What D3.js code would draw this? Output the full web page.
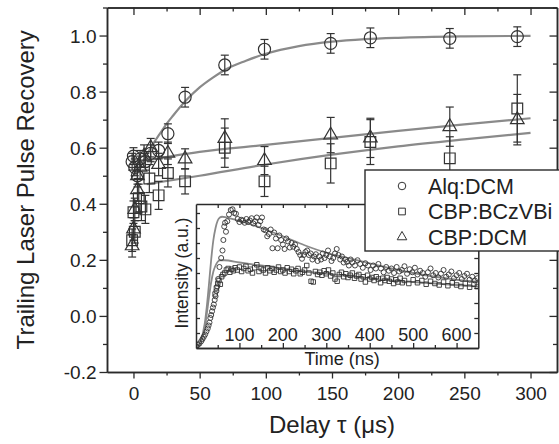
<!DOCTYPE html>
<html>
<head>
<meta charset="utf-8">
<script src="https://cdn.jsdelivr.net/npm/d3@7"></script>
<style>
  body { margin: 0; background: #fff; }
  text { font-family: Arial, "Liberation Sans", sans-serif; fill: #222; }
</style>
</head>
<body>
<svg id="chart" width="559" height="444"></svg>
<script>
// main panel: delay (us), recovery, error
const alqDelay = [-1, 0, 1, 3, 5, 9, 13, 19, 26, 39, 69, 99, 149, 179, 239, 290];
const alqValue = [0.55, 0.57, 0.53, 0.50, 0.56, 0.55, 0.58, 0.59, 0.65, 0.78, 0.895, 0.951, 0.972, 0.992, 0.99, 0.996];
const alqError = [0.03, 0.03, 0.03, 0.03, 0.03, 0.03, 0.03, 0.03, 0.035, 0.035, 0.035, 0.035, 0.035, 0.035, 0.035, 0.035];

const bczDelay = [-1, 0, 1, 4, 6, 9, 12, 19, 26, 39, 69, 99, 149, 179, 239, 290];
const bczValue = [0.27, 0.37, 0.30, 0.42, 0.39, 0.38, 0.49, 0.43, 0.51, 0.48, 0.60, 0.48, 0.544, 0.62, 0.562, 0.74];
const bczError = [0.04, 0.04, 0.04, 0.05, 0.05, 0.05, 0.05, 0.05, 0.05, 0.045, 0.07, 0.054, 0.07, 0.08, 0.077, 0.12];

const dcmDelay = [-1, 0, 1, 3, 3, 5, 8, 13, 19, 26, 39, 69, 99, 149, 179, 239, 290];
const dcmValue = [0.25, 0.31, 0.38, 0.45, 0.50, 0.53, 0.57, 0.60, 0.54, 0.58, 0.56, 0.633, 0.554, 0.645, 0.635, 0.675, 0.70];
const dcmError = [0.04, 0.04, 0.04, 0.04, 0.04, 0.04, 0.04, 0.033, 0.04, 0.04, 0.036, 0.07, 0.05, 0.063, 0.07, 0.07, 0.09];

// fitted curves
const alqFitX = [2, 5, 10, 15, 20, 25, 30, 40, 50, 60, 70, 85, 100, 125, 150, 175, 200, 250, 300];
const alqFitY = [0.50, 0.53, 0.575, 0.615, 0.65, 0.685, 0.715, 0.77, 0.815, 0.85, 0.88, 0.91, 0.935, 0.962, 0.978, 0.987, 0.992, 0.997, 0.999];
const bczFitX = [10, 50, 100, 150, 200, 250, 300];
const bczFitY = [0.47, 0.50, 0.54, 0.575, 0.605, 0.63, 0.653];
const dcmFitX = [10, 50, 100, 150, 200, 250, 300];
const dcmFitY = [0.555, 0.585, 0.61, 0.635, 0.66, 0.683, 0.705];

const xTicks = [0, 50, 100, 150, 200, 250, 300];
const yTicks = [-0.2, 0.0, 0.2, 0.4, 0.6, 0.8, 1.0];

// inset: time (ns), intensity (a.u.)
const insetAlq = [[1,0.1],[4,0.2],[8,0.3],[12,0.45],[15,0.6],[18,0.75],[21,0.9],[24,1.1],[27,1.3],[29,1.5],[31,1.7],[33,2.0],[35,2.2],[37,2.45],[39,2.7],[41,2.9],[43,3.2],[45,3.45],[47,3.8],[49,4.1],[51,4.6],[54,5.4],[58,6.0],[61,6.5],[63,7.2],[65,8.1],[67,8.35],[69,7.75],[72,8.45],[76,8.9],[80,9.2],[84,9.25],[88,9.0],[92,8.95],[96,8.6],[100,8.4],[104,8.55],[108,8.5],[112,8.35],[116,8.6],[120,8.4],[124,8.5],[128,8.65],[132,8.3],[136,8.45],[140,8.7],[144,8.2],[148,8.45],[152,8.7],[156,7.9],[160,7.85],[164,7.45],[168,7.6],[172,7.9],[176,6.65],[180,7.7],[184,7.3],[188,6.65],[192,7.5],[196,7.2],[200,6.9],[204,6.6],[208,7.3],[212,7.1],[216,6.7],[220,7.0],[224,6.75],[228,6.9],[232,6.6],[236,6.4],[240,6.2],[244,5.95],[248,6.2],[252,6.4],[256,6.5],[260,6.2],[264,6.3],[268,5.9],[272,6.1],[276,6.25],[280,5.8],[284,6.1],[288,5.9],[292,6.3],[296,6.0],[300,6.2],[304,6.5],[308,6.1],[312,5.8],[316,6.0],[320,6.3],[324,6.6],[328,6.2],[332,5.9],[336,6.1],[340,5.7],[344,5.9],[348,5.75],[352,5.5],[356,5.9],[360,5.7],[366,5.5],[372,5.85],[378,5.6],[384,5.35],[390,5.65],[396,5.5],[402,5.2],[408,5.5],[414,5.3],[420,5.6],[426,5.3],[432,5.05],[438,5.4],[444,5.15],[450,5.3],[456,5.0],[462,5.4],[468,5.1],[474,5.2],[480,5.45],[486,4.95],[492,5.25],[498,5.05],[504,5.35],[510,4.9],[516,5.15],[522,5.0],[528,4.75],[534,5.05],[540,5.3],[546,4.85],[552,5.0],[558,4.7],[564,4.95],[570,5.2],[576,4.75],[582,4.9],[588,5.1],[594,4.65],[600,4.85],[606,5.0],[612,4.6],[618,4.8],[624,4.95],[630,4.55],[636,4.75],[642,4.5],[648,4.65]];
const insetBcz = [[44,3.6],[47,4.0],[50,4.3],[53,4.5],[56,4.25],[59,4.75],[62,4.9],[66,5.0],[70,5.2],[74,5.3],[78,5.05],[82,5.25],[86,5.15],[90,5.35],[95,5.2],[100,5.4],[105,5.1],[110,5.3],[115,5.45],[120,5.15],[125,5.25],[130,5.0],[135,5.35],[140,5.55],[145,5.1],[150,5.3],[155,5.2],[160,5.0],[165,5.35],[170,5.15],[175,5.3],[180,5.05],[185,5.2],[190,5.4],[195,5.1],[200,5.2],[205,5.0],[210,5.35],[215,5.1],[220,5.25],[225,4.95],[230,5.15],[235,5.3],[240,4.95],[245,5.05],[250,5.2],[255,5.5],[260,5.0],[265,4.45],[270,4.4],[275,5.1],[280,4.9],[285,5.05],[290,4.85],[295,5.15],[300,4.95],[305,5.2],[310,4.8],[315,5.0],[320,4.6],[325,4.45],[330,4.9],[335,5.05],[340,4.75],[345,4.95],[350,4.7],[355,4.85],[360,5.0],[365,4.65],[370,4.8],[375,4.9],[380,4.6],[385,4.75],[390,4.4],[395,4.85],[400,4.6],[405,4.7],[410,4.5],[415,4.75],[420,4.6],[425,4.35],[430,4.65],[435,4.5],[440,4.7],[445,4.45],[450,4.6],[455,4.3],[460,4.55],[465,4.4],[470,4.65],[475,4.35],[480,4.5],[490,4.3],[500,4.55],[510,4.35],[520,4.5],[530,4.25],[540,4.45],[550,4.3],[560,4.2],[570,4.4],[580,4.15],[590,4.35],[600,4.2],[610,4.1],[620,4.3],[630,4.05],[640,4.25],[648,4.1]];
const insetAlqFit = [[0,0],[10,0.4],[20,1.6],[25,2.8],[30,4.3],[35,5.9],[40,7.2],[45,8.0],[50,8.5],[55,8.7],[60,8.75],[70,8.7],[90,8.55],[120,8.3],[150,8.0],[200,7.45],[250,6.85],[300,6.35],[350,6.0],[400,5.65],[450,5.3],[500,5.0],[550,4.75],[600,4.55],[650,4.4]];
const insetBczFit = [[0,0],[10,0.3],[20,1.3],[25,2.3],[30,3.4],[35,4.4],[40,5.1],[45,5.5],[50,5.75],[55,5.85],[65,5.85],[100,5.7],[150,5.5],[200,5.3],[250,5.1],[300,4.95],[350,4.8],[400,4.65],[450,4.5],[500,4.4],[550,4.3],[600,4.2],[650,4.1]];
const insetTicks = [100, 200, 300, 400, 500, 600];

const legendLabels = ['Alq:DCM', 'CBP:BCzVBi', 'CBP:DCM'];

const margin = { top: 7.5, right: 2, bottom: 72, left: 107 };
const width = 559 - margin.left - margin.right;
const height = 444 - margin.top - margin.bottom;

const AXIS = '#2a2a2a';
const FIT = '#8a8a8a';
const MARK = '#333';

const svg = d3.select('#chart');
const plot = svg.append('g').attr('transform', `translate(${margin.left},${margin.top})`);

const x = d3.scaleLinear().domain([-20, 320]).range([0, width]);
const y = d3.scaleLinear().domain([-0.2, 1.1]).range([height, 0]);

function styleAxis(g) {
  g.selectAll('path').attr('stroke', AXIS).attr('stroke-width', 1.5);
  g.selectAll('line').attr('stroke', AXIS).attr('stroke-width', 1.3);
  g.selectAll('text').attr('fill', '#222');
}

const xMinor = d3.range(-0, 325, 25).filter(d => d % 50 !== 0);
const yMinor = d3.range(-0.1, 1.1, 0.2);

// minor ticks first
plot.append('g').attr('transform', `translate(0,${height})`)
  .call(d3.axisBottom(x).tickValues(xMinor).tickSize(3.5).tickFormat('').tickSizeOuter(0)).call(styleAxis);
plot.append('g')
  .call(d3.axisLeft(y).tickValues(yMinor).tickSize(4).tickFormat('').tickSizeOuter(0)).call(styleAxis);
plot.append('g')
  .call(d3.axisTop(x).tickValues(xMinor).tickSize(-4).tickFormat('').tickSizeOuter(0)).call(styleAxis);
plot.append('g').attr('transform', `translate(${width},0)`)
  .call(d3.axisRight(y).tickValues(yMinor).tickSize(-4).tickFormat('').tickSizeOuter(0)).call(styleAxis);

const xAxis = plot.append('g').attr('transform', `translate(0,${height})`)
  .call(d3.axisBottom(x).tickValues(xTicks).tickSize(6.5).tickPadding(8).tickSizeOuter(0))
  .call(styleAxis);
xAxis.selectAll('text').style('font-size', '19px');

const yAxis = plot.append('g')
  .call(d3.axisLeft(y).tickValues(yTicks).tickSize(7.5).tickPadding(3)
    .tickFormat(d => d.toFixed(1)).tickSizeOuter(0))
  .call(styleAxis);
yAxis.selectAll('text').style('font-size', '19px').attr('dy', '0.36em');

plot.append('g')
  .call(d3.axisTop(x).tickValues(xTicks).tickSize(-7.5).tickFormat('').tickSizeOuter(0)).call(styleAxis);
plot.append('g').attr('transform', `translate(${width},0)`)
  .call(d3.axisRight(y).tickValues(yTicks).tickSize(-7.5).tickFormat('').tickSizeOuter(0)).call(styleAxis);

// axis titles
svg.append('text')
  .attr('x', margin.left + width / 2).attr('y', 433)
  .attr('text-anchor', 'middle').style('font-size', '24px')
  .text('Delay \u03c4 (\u03bcs)');
svg.append('text')
  .attr('transform', `translate(34,${margin.top + height / 2}) rotate(-90)`)
  .attr('text-anchor', 'middle').style('font-size', '24px')
  .text('Trailing Laser Pulse Recovery');

// fit lines
const fitLine = d3.line().x(d => x(d[0])).y(d => y(d[1])).curve(d3.curveMonotoneX);
[[alqFitX, alqFitY], [bczFitX, bczFitY], [dcmFitX, dcmFitY]].forEach(([fx, fy]) => {
  plot.append('path')
    .datum(fx.map((d, i) => [d, fy[i]]))
    .attr('d', fitLine)
    .attr('fill', 'none').attr('stroke', FIT).attr('stroke-width', 2.2);
});

const series = [
  { xs: alqDelay, ys: alqValue, es: alqError, shape: d3.symbolCircle, size: 115 },
  { xs: bczDelay, ys: bczValue, es: bczError, shape: d3.symbolSquare, size: 115 },
  { xs: dcmDelay, ys: dcmValue, es: dcmError, shape: d3.symbolTriangle, size: 80 }
];

series.forEach(s => {
  const pts = s.xs.map((d, i) => ({ x: d, y: s.ys[i], e: s.es[i] }));
  const eb = plot.append('g').attr('stroke', MARK).attr('stroke-width', 1.2);
  pts.forEach(p => {
    eb.append('line').attr('x1', x(p.x)).attr('x2', x(p.x)).attr('y1', y(p.y - p.e)).attr('y2', y(p.y + p.e));
    eb.append('line').attr('x1', x(p.x) - 4).attr('x2', x(p.x) + 4).attr('y1', y(p.y - p.e)).attr('y2', y(p.y - p.e));
    eb.append('line').attr('x1', x(p.x) - 4).attr('x2', x(p.x) + 4).attr('y1', y(p.y + p.e)).attr('y2', y(p.y + p.e));
  });
  plot.append('g').selectAll('path')
    .data(pts).join('path')
    .attr('transform', p => `translate(${x(p.x)},${y(p.y)})`)
    .attr('d', d3.symbol(s.shape, s.size))
    .attr('fill', 'none').attr('stroke', MARK).attr('stroke-width', 1.2);
});

// inset
const inset = { left: 196, top: 204, right: 478.3, bottom: 348 };
const ix = d3.scaleLinear().domain([0, 650]).range([inset.left, inset.right]);
const iy = d3.scaleLinear().domain([0, 9.6]).range([inset.bottom, inset.top]);

svg.append('rect')
  .attr('x', inset.left).attr('y', inset.top)
  .attr('width', inset.right - inset.left).attr('height', inset.bottom - inset.top)
  .attr('fill', '#fff');

svg.append('clipPath').attr('id', 'insetClip')
  .append('rect')
  .attr('x', inset.left).attr('y', inset.top)
  .attr('width', inset.right - inset.left).attr('height', inset.bottom - inset.top);

const ig = svg.append('g').attr('clip-path', 'url(#insetClip)');
const insetLine = d3.line().x(d => ix(d[0])).y(d => iy(d[1])).curve(d3.curveMonotoneX);
[insetAlqFit, insetBczFit].forEach(f => {
  ig.append('path').datum(f).attr('d', insetLine)
    .attr('fill', 'none').attr('stroke', FIT).attr('stroke-width', 1.8);
});
ig.append('g').selectAll('path').data(insetBcz).join('path')
  .attr('transform', d => `translate(${ix(d[0])},${iy(d[1])})`)
  .attr('d', d3.symbol(d3.symbolSquare, 20))
  .attr('fill', 'none').attr('stroke', MARK).attr('stroke-width', 0.9);
ig.append('g').selectAll('path').data(insetAlq).join('path')
  .attr('transform', d => `translate(${ix(d[0])},${iy(d[1])})`)
  .attr('d', d3.symbol(d3.symbolCircle, 20))
  .attr('fill', 'none').attr('stroke', MARK).attr('stroke-width', 0.9);

const iMinor = d3.range(50, 650, 100);
const iyTicks = d3.range(1, 10);
svg.append('g').attr('transform', `translate(0,${inset.bottom})`)
  .call(d3.axisBottom(ix).tickValues(insetTicks).tickSize(-5).tickFormat('').tickSizeOuter(0)).call(styleAxis);
svg.append('g').attr('transform', `translate(0,${inset.bottom})`)
  .call(d3.axisBottom(ix).tickValues(iMinor).tickSize(-3).tickFormat('').tickSizeOuter(0)).call(styleAxis);
svg.append('g').attr('transform', `translate(0,${inset.top})`)
  .call(d3.axisTop(ix).tickValues(insetTicks.concat(iMinor)).tickSize(-4).tickFormat('').tickSizeOuter(0)).call(styleAxis);
svg.append('g').attr('transform', `translate(${inset.left},0)`)
  .call(d3.axisLeft(iy).tickValues(iyTicks).tickSize(-4).tickFormat('').tickSizeOuter(0)).call(styleAxis);
svg.append('g').attr('transform', `translate(${inset.right},0)`)
  .call(d3.axisRight(iy).tickValues(iyTicks).tickSize(-4).tickFormat('').tickSizeOuter(0)).call(styleAxis);
svg.selectAll('.domain').attr('stroke-width', 1.5);

svg.append('g').selectAll('text').data(insetTicks).join('text')
  .attr('x', d => ix(d)).attr('y', inset.bottom - 7)
  .attr('text-anchor', 'middle').style('font-size', '18px')
  .text(d => d);
svg.append('text')
  .attr('x', (inset.left + inset.right) / 2 + 5).attr('y', 365)
  .attr('text-anchor', 'middle').style('font-size', '18px')
  .text('Time (ns)');
svg.append('text')
  .attr('transform', `translate(188,${(inset.top + inset.bottom) / 2 - 3}) rotate(-90)`)
  .attr('text-anchor', 'middle').style('font-size', '17.5px')
  .text('Intensity (a.u.)');

// legend
const legend = svg.append('g');
legend.append('rect')
  .attr('x', 365).attr('y', 170).attr('width', 200).attr('height', 81)
  .attr('fill', '#fff').attr('stroke', AXIS).attr('stroke-width', 1.4);
const legendShapes = [[d3.symbolCircle, 45], [d3.symbolSquare, 45], [d3.symbolTriangle, 40]];
legendLabels.forEach((label, i) => {
  const cy = 186 + i * 25.5;
  legend.append('path')
    .attr('transform', `translate(402,${cy})`)
    .attr('d', d3.symbol(legendShapes[i][0], legendShapes[i][1]))
    .attr('fill', 'none').attr('stroke', MARK).attr('stroke-width', 1);
  legend.append('text')
    .attr('x', 428).attr('y', cy + 7.5)
    .style('font-size', '21.5px')
    .text(label);
});
</script>
</body>
</html>
